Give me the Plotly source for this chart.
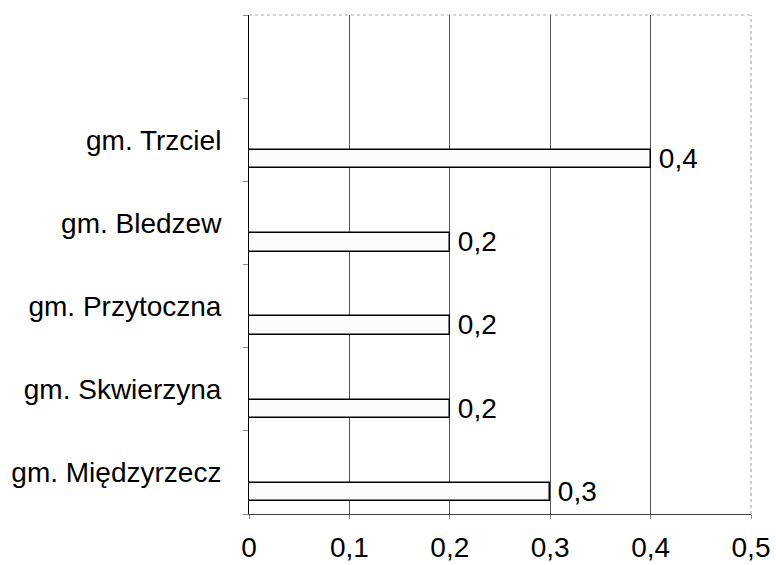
import plotly.graph_objects as go

categories = ["gm. Międzyrzecz", "gm. Skwierzyna", "gm. Przytoczna", "gm. Bledzew", "gm. Trzciel"]
values = [0.3, 0.2, 0.2, 0.2, 0.4]
x_ticks = [0, 0.1, 0.2, 0.3, 0.4, 0.5]
x_tick_labels = ["0", "0,1", "0,2", "0,3", "0,4", "0,5"]
empty_slot = " "

font_family = "Liberation Sans, Arial, sans-serif"

fig = go.Figure()
fig.add_trace(go.Bar(
    y=categories,
    x=values,
    orientation="h",
    width=0.22,
    offset=-0.345,
    marker=dict(color="#fbfbfb", line=dict(color="black", width=1.5)),
    texttemplate="\u2009%{x:.1f}",
    textposition="outside",
    constraintext="none",
    cliponaxis=False,
    textfont=dict(family=font_family, size=28, color="black"),
    hoverinfo="skip",
))

fig.update_layout(
    width=776,
    height=565,
    margin=dict(l=249, r=25, t=15, b=51, autoexpand=False),
    paper_bgcolor="white",
    plot_bgcolor="white",
    separators=", ",
    showlegend=False,
    font=dict(family=font_family, size=28, color="black"),
    bargap=0,
)

fig.update_xaxes(
    range=[0, 0.5],
    tickvals=x_ticks,
    ticktext=x_tick_labels,
    showgrid=True,
    gridcolor="#555555",
    gridwidth=1,
    zeroline=False,
    showline=True,
    linecolor="#444444",
    linewidth=1,
    ticks="outside",
    ticklen=4,
    tickcolor="#888888",
    ticklabelstandoff=4,
    tickfont=dict(family=font_family, size=28, color="black"),
)

fig.update_yaxes(
    type="category",
    categoryorder="array",
    categoryarray=categories + [empty_slot],
    range=[-0.5, 5.5],
    tickson="boundaries",
    ticks="outside",
    ticklen=5,
    tickcolor="#888888",
    showgrid=False,
    zeroline=False,
    showline=True,
    linecolor="black",
    linewidth=1,
    ticklabelstandoff=21,
    tickfont=dict(family=font_family, size=28, color="black"),
)

# dotted top and right frame
fig.add_shape(type="line", xref="paper", yref="paper", x0=0, x1=1, y0=1, y1=1,
              line=dict(color="#aaaaaa", width=1, dash="dot"))
fig.add_shape(type="line", xref="paper", yref="paper", x0=1, x1=1, y0=0, y1=1,
              line=dict(color="#999999", width=1, dash="dot"))

fig.write_html("out.html", config={"displayModeBar": False},
               post_script="document.body.style.margin='0';document.body.style.overflow='hidden';")
